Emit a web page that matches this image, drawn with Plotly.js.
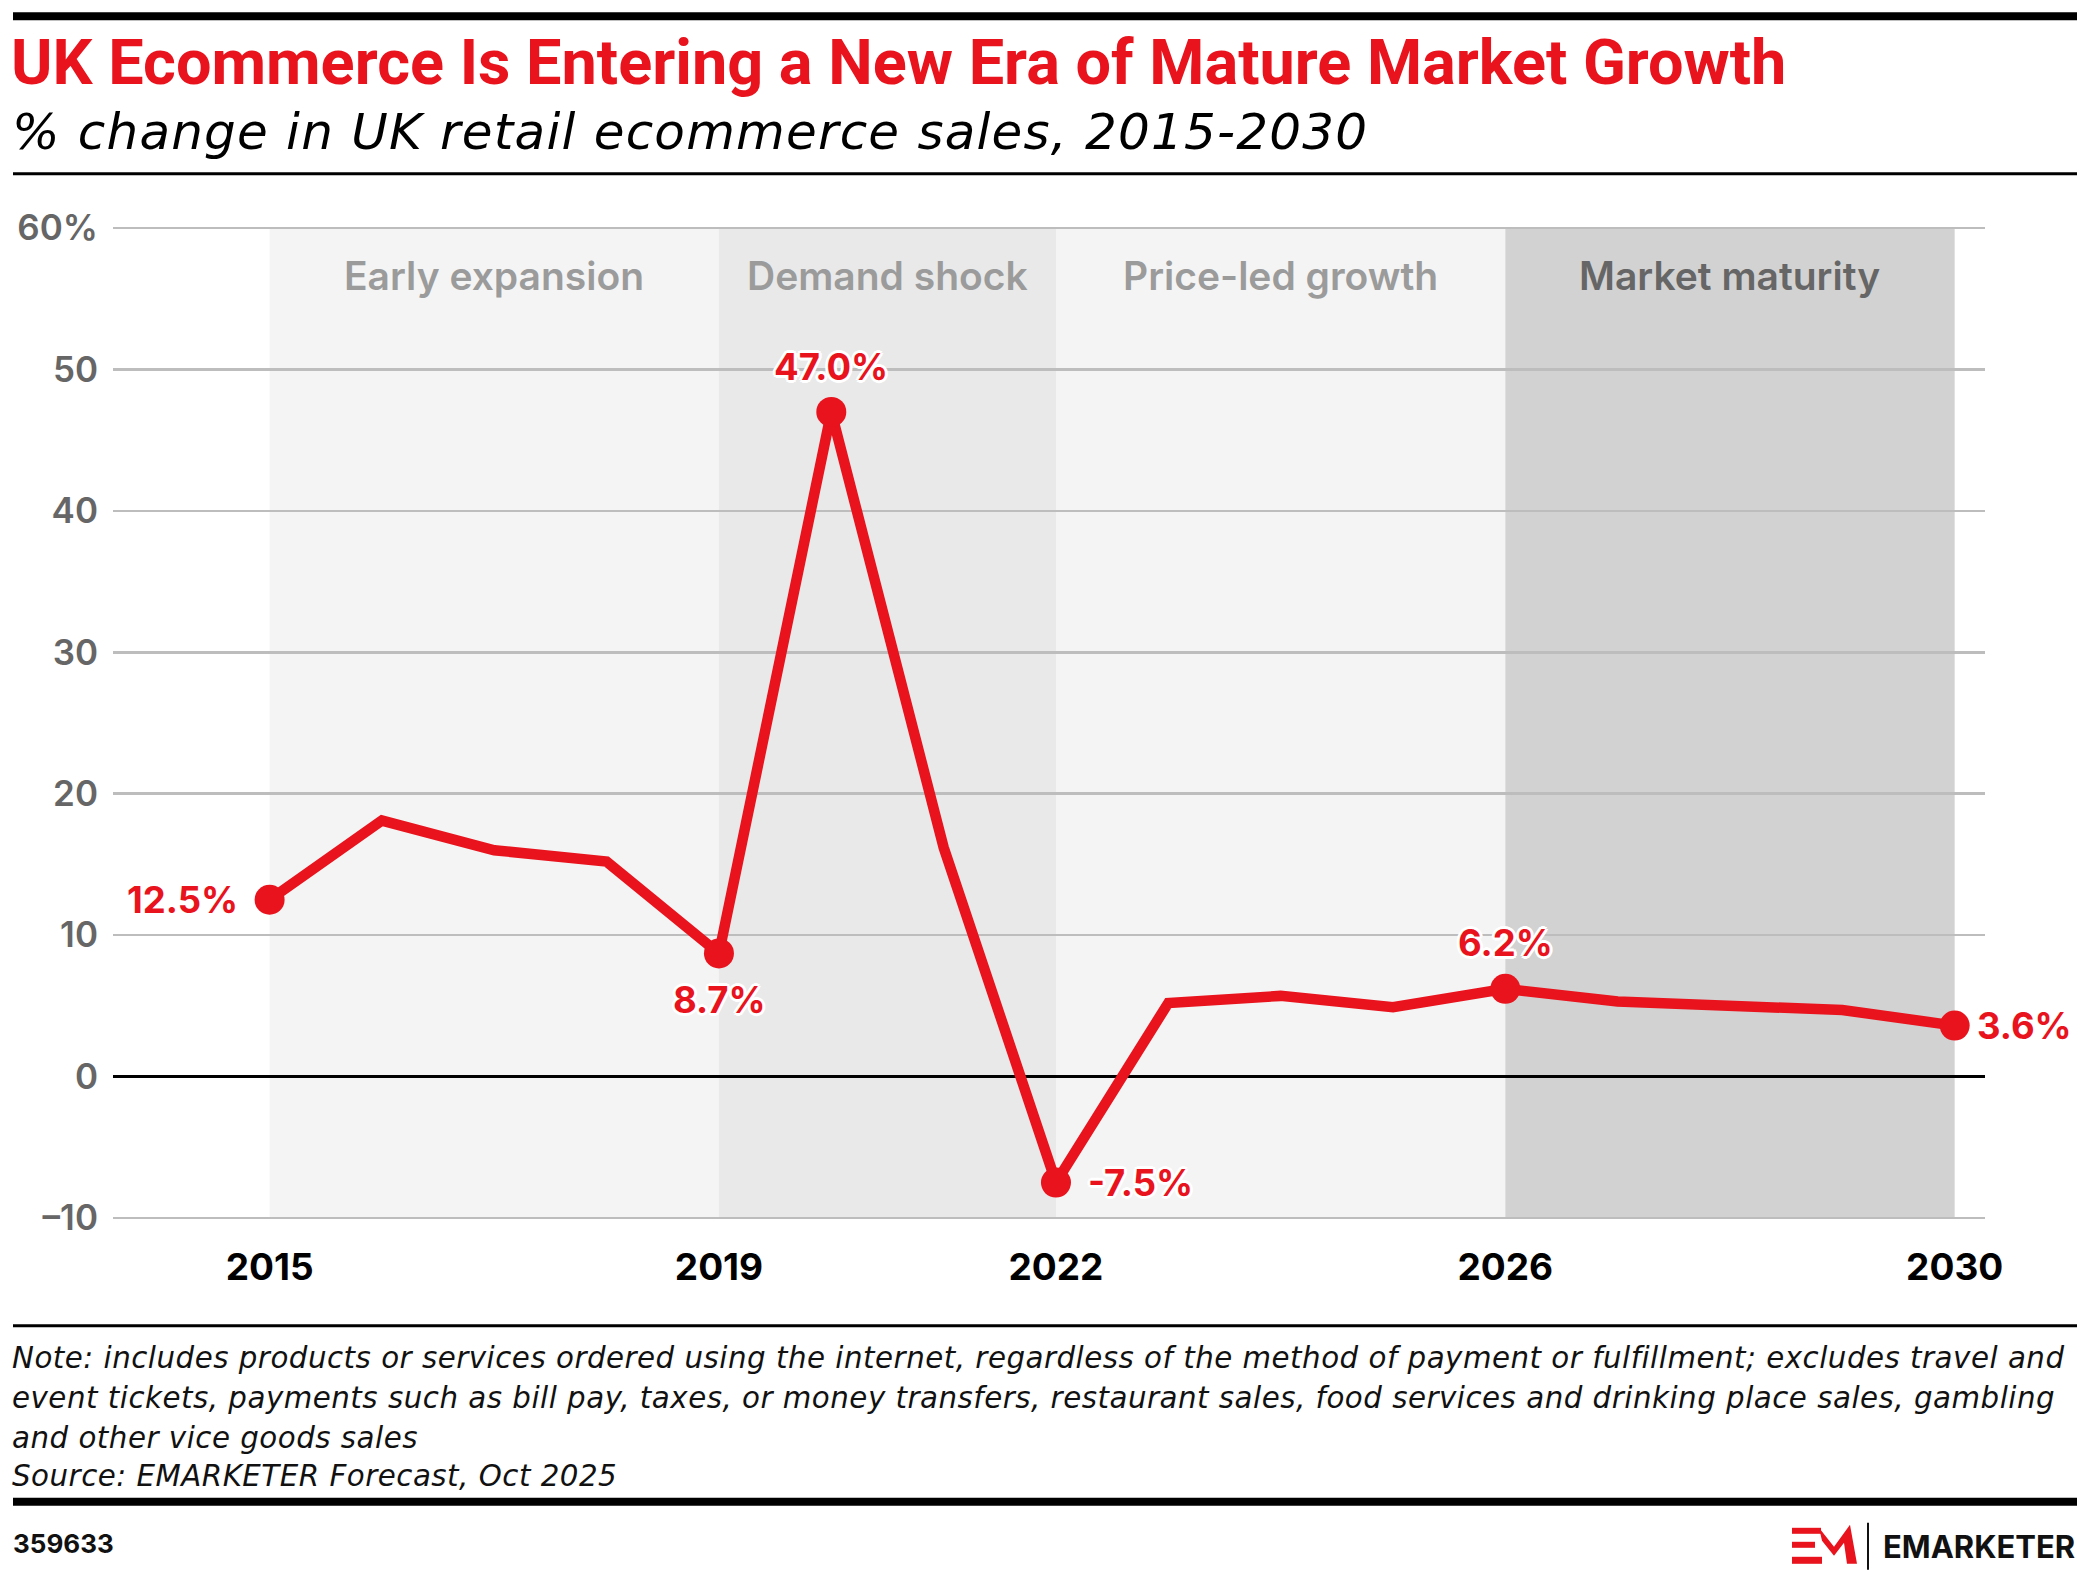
<!DOCTYPE html>
<html>
<head>
<meta charset="utf-8">
<script src="https://cdn.plot.ly/plotly-3.0.1.min.js"></script>
<style>
  html, body { margin: 0; padding: 0; background: #fff; }
  #chart { width: 2092px; height: 1581px; }
</style>
</head>
<body>
<div id="chart"></div>
<script>
// Annual % change in UK retail ecommerce sales
const years  = [2015, 2016, 2017, 2018, 2019, 2020, 2021, 2022, 2023, 2024, 2025, 2026, 2027, 2028, 2029, 2030];
const growth = [12.5, 18.1, 16.0, 15.2, 8.7, 47.0, 16.2, -7.5, 5.2, 5.7, 4.9, 6.2, 5.3, 5.0, 4.7, 3.6];

// Years whose value is called out on the line
const labelYears = [2015, 2019, 2020, 2022, 2026, 2030];

// Market phases
const phaseNames = ['Early expansion', 'Demand shock', 'Price-led growth', 'Market maturity'];
const phaseStart = [2015, 2019, 2022, 2026];
const phaseEnd   = [2019, 2022, 2026, 2030];

// Axis ticks
const xTickVals = [2015, 2019, 2022, 2026, 2030];
const yTickVals = [-10, 0, 10, 20, 30, 40, 50, 60];
const yTickText = ['\u201310', '0', '10', '20', '30', '40', '50', '60%'];

// ---- styling ----
const RED = '#e8131d';
const phaseFill  = ['#f4f4f4', '#e9e9e9', '#f4f4f4', '#d2d2d2'];
const phaseInk   = ['#9b9b9b', '#9b9b9b', '#9b9b9b', '#666666'];
const labelPlace = {
  2015: {xanchor: 'right',  yanchor: 'middle', xshift: -30, yshift: 0},
  2019: {xanchor: 'center', yanchor: 'middle', xshift: 1,   yshift: -47},
  2020: {xanchor: 'center', yanchor: 'middle', xshift: 0,   yshift: 45},
  2022: {xanchor: 'left',   yanchor: 'middle', xshift: 30,  yshift: 0},
  2026: {xanchor: 'center', yanchor: 'middle', xshift: 0,   yshift: 46},
  2030: {xanchor: 'left',   yanchor: 'middle', xshift: 20,  yshift: 0}
};
const HALO = '-3px 0 0 #fff, 3px 0 0 #fff, 0 -3px 0 #fff, 0 3px 0 #fff, -2px -2px 0 #fff, 2px -2px 0 #fff, -2px 2px 0 #fff, 2px 2px 0 #fff';
const ITALIC = '"DejaVu Sans", sans-serif';
const spaced = (t, ls) => '<span style="letter-spacing:' + ls + 'px">' + t + '</span>';

// plot-area box in page pixels (60 at top edge, -10 at bottom edge), used to place page furniture
const W = 2092, H = 1581;
const BOX = {l: 113, r: 1985, t: 228, b: 1218};
const Y_PAD = 0.15;                       // keeps the 60 and -10 gridlines inside the plot area
const PAD_PX = Y_PAD * (BOX.b - BOX.t) / 70;
const px = x => (x - BOX.l) / (BOX.r - BOX.l);
const py = y => (BOX.b + PAD_PX - y) / (BOX.b - BOX.t + 2 * PAD_PX);

const labelVals = labelYears.map(yr => growth[years.indexOf(yr)]);

const traces = [
  {
    x: years, y: growth, type: 'scatter', mode: 'lines',
    line: {color: RED, width: 10.5}, hoverinfo: 'skip'
  },
  {
    x: labelYears, y: labelVals, type: 'scatter', mode: 'markers',
    marker: {color: RED, size: 30}, hoverinfo: 'skip'
  }
];

const shapes = [];
const annotations = [];

// phase bands and their names
phaseNames.forEach((name, i) => {
  shapes.push({
    type: 'rect', layer: 'below', xref: 'x', yref: 'y',
    x0: phaseStart[i], x1: phaseEnd[i], y0: -10, y1: 60,
    fillcolor: phaseFill[i], line: {width: 0}
  });
  annotations.push({
    text: name, xref: 'x', yref: 'paper',
    x: (phaseStart[i] + phaseEnd[i]) / 2, y: py(275),
    xanchor: 'center', yanchor: 'middle', showarrow: false,
    font: {family: 'Inter, sans-serif', size: 39, weight: 600, color: phaseInk[i]}
  });
});

// value call-outs
labelYears.forEach((yr, i) => {
  const p = labelPlace[yr];
  annotations.push({
    text: labelVals[i].toFixed(1) + '%', xref: 'x', yref: 'y',
    x: yr, y: labelVals[i], showarrow: false,
    xanchor: p.xanchor, yanchor: p.yanchor, xshift: p.xshift, yshift: p.yshift,
    font: {family: 'Inter, sans-serif', size: 36.5, weight: 700, color: RED, shadow: HALO}
  });
});

// rules
const rule = (y0, y1) => ({
  type: 'rect', xref: 'paper', yref: 'paper', layer: 'above',
  x0: px(13), x1: px(2077), y0: py(y1), y1: py(y0),
  fillcolor: '#000', line: {width: 0}
});
shapes.push(rule(12, 20), rule(172, 175), rule(1324.5, 1327.5), rule(1498, 1506));

// title block
annotations.push({
  text: 'UK Ecommerce Is Entering a New Era of Mature Market Growth',
  xref: 'paper', yref: 'paper', x: px(10), y: py(62), xanchor: 'left', yanchor: 'middle',
  showarrow: false, borderpad: 0,
  font: {family: 'Roboto, sans-serif', size: 63, weight: 700, color: RED}
});
annotations.push({
  text: spaced('% change in UK retail ecommerce sales, 2015-2030', 1.2),
  xref: 'paper', yref: 'paper', x: px(11), y: py(132), xanchor: 'left', yanchor: 'middle',
  showarrow: false, borderpad: 0,
  font: {family: ITALIC, size: 50, weight: 400, style: 'italic', color: '#000'}
});

// footnotes
const noteLines = [
  'Note: includes products or services ordered using the internet, regardless of the method of payment or fulfillment; excludes travel and',
  'event tickets, payments such as bill pay, taxes, or money transfers, restaurant sales, food services and drinking place sales, gambling',
  'and other vice goods sales',
  'Source: EMARKETER Forecast, Oct 2025'
];
const noteY = [1358, 1398, 1438, 1476];
noteLines.forEach((t, i) => annotations.push({
  text: spaced(t, 0.5), xref: 'paper', yref: 'paper', x: px(11), y: py(noteY[i]),
  xanchor: 'left', yanchor: 'middle', showarrow: false, borderpad: 0,
  font: {family: ITALIC, size: 29.3, weight: 400, style: 'italic', color: '#111'}
}));

annotations.push({
  text: '359633', xref: 'paper', yref: 'paper', x: px(11), y: py(1544),
  xanchor: 'left', yanchor: 'middle', showarrow: false,
  font: {family: 'Inter, sans-serif', size: 26, weight: 700, color: '#111'}
});

// brand mark
const P = (x, y) => px(x).toFixed(5) + ',' + py(y).toFixed(5);
const bar = (x0, x1, y0, y1) => ({
  type: 'rect', xref: 'paper', yref: 'paper', layer: 'above',
  x0: px(x0), x1: px(x1), y0: py(y1), y1: py(y0), fillcolor: RED, line: {width: 0}
});
shapes.push(bar(1792, 1821, 1528, 1534), bar(1792, 1815, 1542, 1548), bar(1792, 1822, 1557, 1564));
shapes.push({
  type: 'path', xref: 'paper', yref: 'paper', layer: 'above',
  path: 'M' + P(1819, 1528) + 'L' + P(1834, 1547) + 'L' + P(1850, 1525) + 'L' + P(1857, 1564) +
        'L' + P(1847, 1564) + 'L' + P(1844, 1543) + 'L' + P(1834, 1556) + 'L' + P(1822, 1541) + 'Z',
  fillcolor: RED, line: {width: 0}
});
shapes.push({
  type: 'line', xref: 'paper', yref: 'paper', layer: 'above',
  x0: px(1868), x1: px(1868), y0: py(1570), y1: py(1523), line: {color: '#111', width: 2}
});
annotations.push({
  text: 'EMARKETER', xref: 'paper', yref: 'paper', x: px(1881), y: py(1547),
  xanchor: 'left', yanchor: 'middle', showarrow: false,
  font: {family: 'Inter, sans-serif', size: 31, weight: 700, color: '#111'}
});

const layout = {
  width: W, height: H,
  margin: {l: BOX.l, r: W - BOX.r, t: BOX.t - PAD_PX, b: H - BOX.b - PAD_PX, pad: 0},
  paper_bgcolor: '#fff', plot_bgcolor: '#fff',
  showlegend: false,
  xaxis: {
    range: [2013.606, 2030.27], tickvals: xTickVals, ticktext: xTickVals.map(String),
    showgrid: false, zeroline: false, showline: false, ticks: '',
    ticklabelstandoff: 22,
    tickfont: {family: 'Inter, sans-serif', size: 37, weight: 700, color: '#000'}
  },
  yaxis: {
    range: [-10 - Y_PAD, 60 + Y_PAD], tickvals: yTickVals, ticktext: yTickText,
    showgrid: true, gridcolor: '#bdbdbd', gridwidth: 2.5,
    zeroline: true, zerolinecolor: '#000', zerolinewidth: 2.5,
    showline: false, ticks: '', ticklabelstandoff: 14,
    tickfont: {family: 'Inter, sans-serif', size: 35, weight: 600, color: '#666'}
  },
  shapes: shapes,
  annotations: annotations
};

Plotly.newPlot('chart', traces, layout, {staticPlot: true, displayModeBar: false});
</script>
</body>
</html>
